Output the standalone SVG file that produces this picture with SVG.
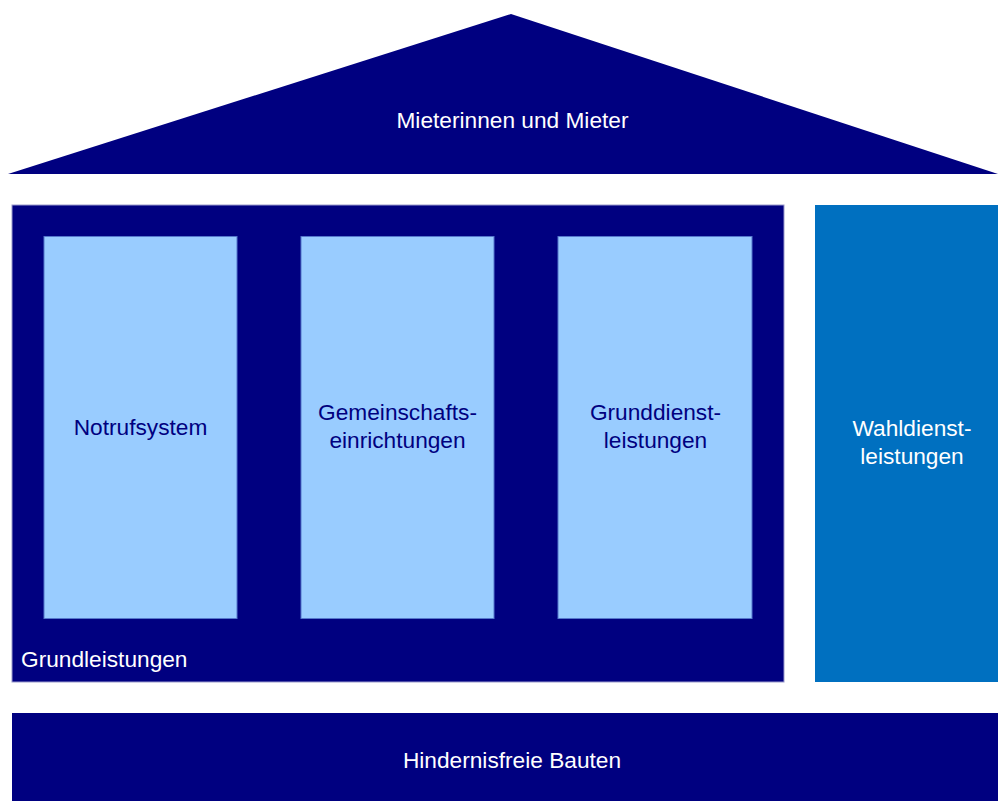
<svg xmlns="http://www.w3.org/2000/svg" width="998" height="801" viewBox="0 0 998 801">
<style>
.dark{fill:#000080}
.light{fill:#99ccff;stroke:#5577cc;stroke-width:1}
.mid{fill:#0070c0}
text{font-family:"Liberation Sans",Arial,sans-serif;font-size:22.7px}
.w{fill:#ffffff}
.n{fill:#000080}
</style>
<rect width="998" height="801" fill="#ffffff"/>
<g id="roof">
<polygon class="dark" points="511,14 998,174 8,174"/>
<text class="w" x="512.5" y="128" text-anchor="middle">Mieterinnen und Mieter</text>
</g>
<g id="grundleistungen">
<rect class="dark" x="12" y="205" width="772" height="477" stroke="#9999cc" stroke-width="1"/>
<text class="w" x="21" y="667">Grundleistungen</text>
</g>
<g id="notrufsystem">
<rect class="light" x="44" y="236.5" width="193" height="382"/>
<text class="n" x="140.5" y="435" text-anchor="middle">Notrufsystem</text>
</g>
<g id="gemeinschaft">
<rect class="light" x="301" y="236.5" width="193" height="382"/>
<text class="n" text-anchor="middle"><tspan x="397.5" y="420">Gemeinschafts-</tspan><tspan x="397.5" y="448">einrichtungen</tspan></text>
</g>
<g id="grunddienst">
<rect class="light" x="558" y="236.5" width="194" height="382"/>
<text class="n" text-anchor="middle"><tspan x="655.5" y="420">Grunddienst-</tspan><tspan x="655.5" y="448">leistungen</tspan></text>
</g>
<g id="wahldienst">
<rect class="mid" x="815" y="205" width="183" height="477"/>
<text class="w" text-anchor="middle"><tspan x="912" y="436">Wahldienst-</tspan><tspan x="912" y="464">leistungen</tspan></text>
</g>
<g id="bauten">
<rect class="dark" x="12" y="713" width="986" height="88"/>
<text class="w" x="512" y="768" text-anchor="middle">Hindernisfreie Bauten</text>
</g>
<g id="connectors"/>
</svg>
